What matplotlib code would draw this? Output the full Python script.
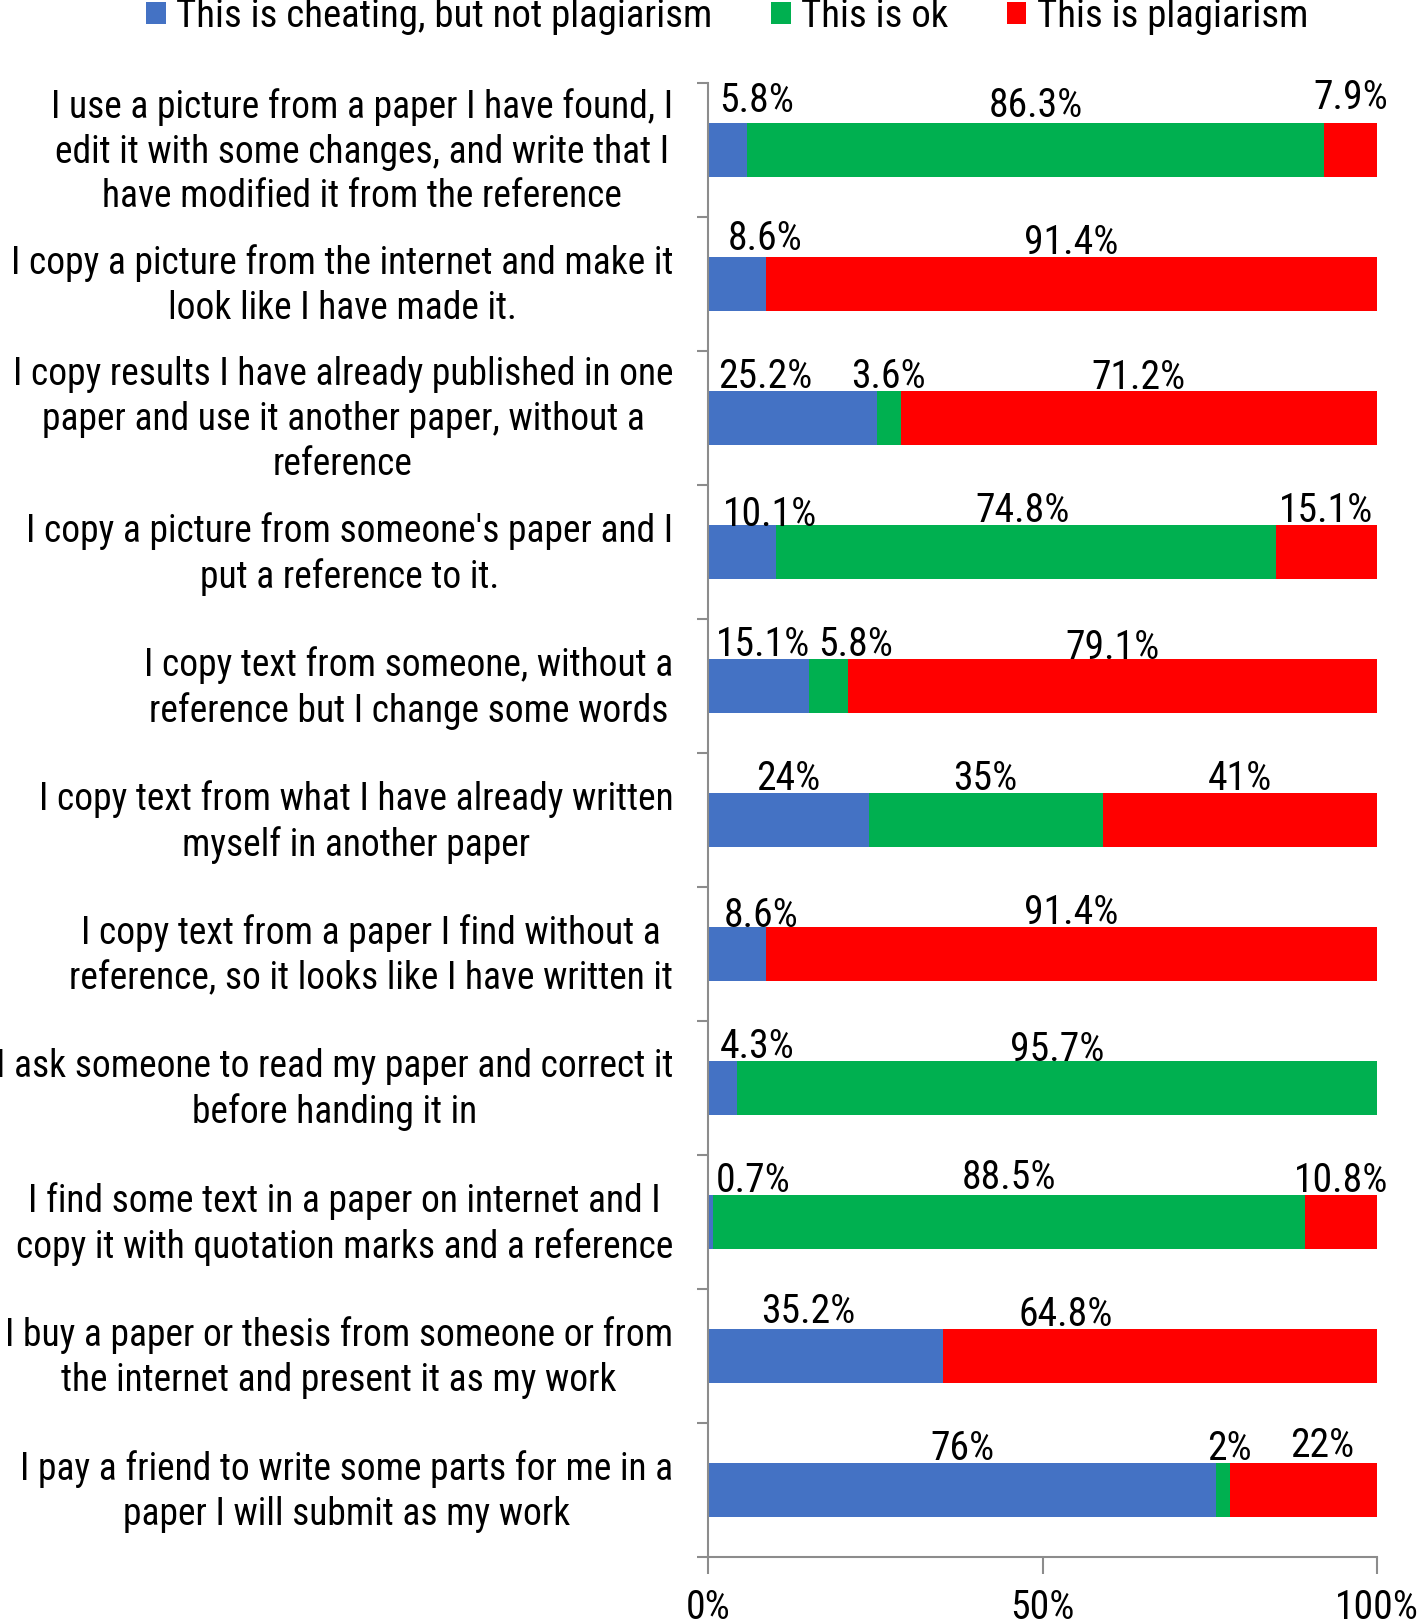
import matplotlib
matplotlib.use("Agg")
import matplotlib.pyplot as plt
from matplotlib.patches import Patch
from matplotlib.transforms import ScaledTranslation
import numpy as np

plt.rcParams['font.family'] = ['Roboto Condensed', 'Liberation Sans Narrow', 'Lato', 'DejaVu Sans']

categories = [
    "I use a picture from a paper I have found, I\nedit it with some changes, and write that I\nhave modified it from the reference",
    "I copy a picture from the internet and make it\nlook like I have made it.",
    "I copy results I have already published in one\npaper and use it another paper, without a\nreference",
    "I copy a picture from someone's paper and I\nput a reference to it.",
    "I copy text from someone, without a\nreference but I change some words",
    "I copy text from what I have already written\nmyself in another paper",
    "I copy text from a paper I find without a\nreference, so it looks like I have written it",
    "I ask someone to read my paper and correct it\nbefore handing it in",
    "I find some text in a paper on internet and I\ncopy it with quotation marks and a reference",
    "I buy a paper or thesis from someone or from\nthe internet and present it as my work",
    "I pay a friend to write some parts for me in a\npaper I will submit as my work",
]
series_names = ["This is cheating, but not plagiarism", "This is ok", "This is plagiarism"]
cheating = [5.8, 8.6, 25.2, 10.1, 15.1, 24, 8.6, 4.3, 0.7, 35.2, 76]
ok = [86.3, 0, 3.6, 74.8, 5.8, 35, 0, 95.7, 88.5, 0, 2]
plagiarism = [7.9, 91.4, 71.2, 15.1, 79.1, 41, 91.4, 0, 10.8, 64.8, 22]
x_ticks = [0, 50, 100]
x_tick_labels = ["0%", "50%", "100%"]

colors = ["#4472C4", "#00B050", "#FF0000"]

# small horizontal nudges (in % units) for data labels: (row, series) -> shift
label_shift_x = {
    (0, 0): 4.4, (1, 0): 4.2, (2, 0): -4.1, (3, 0): 4.25, (3, 1): -0.5,
    (4, 0): 0.65, (4, 1): 4.1, (6, 0): 3.6, (7, 0): 5.15, (8, 0): 6.45,
    (9, 0): -2.6, (9, 2): -14.1, (10, 1): 0.9, (10, 2): 2.8,
}
# vertical nudges (in category units, negative = up)
label_shift_y = {
    (0, 0): -0.06, (0, 1): -0.02, (0, 2): -0.08, (1, 0): -0.03, (1, 1): -0.05,
    (2, 2): 0.01, (3, 0): 0.03, (4, 2): 0.02, (6, 0): 0.02, (6, 1): -0.02,
    (7, 1): 0.02, (8, 1): -0.02, (9, 0): -0.02, (10, 2): -0.02,
}

fig = plt.figure(figsize=(14.18, 16.19), dpi=100)
ax = fig.add_axes([708 / 1418, 1 - 1557 / 1619, (1377 - 708) / 1418, (1557 - 83) / 1619])

n = len(categories)
y = np.arange(n)
bar_h = 0.41
data = [cheating, ok, plagiarism]
left = np.zeros(n)
fs_cat = 27
fs_lab = 28.5
for s, vals in enumerate(data):
    vals = np.array(vals, dtype=float)
    ax.barh(y, vals, left=left, height=bar_h, color=colors[s], edgecolor='none')
    for i in range(n):
        v = vals[i]
        if v <= 0:
            continue
        cx = left[i] + v / 2 + label_shift_x.get((i, s), 0)
        ty = y[i] - bar_h / 2 - 0.02 + label_shift_y.get((i, s), 0)
        ax.text(cx, ty, f"{v:g}%", ha='center', va='baseline', fontsize=fs_lab, color='black')
    left = left + vals

ax.set_ylim(n - 0.5, -0.5)
ax.set_xlim(0, 100)
ax.set_yticks(y)
ax.set_yticklabels(categories, fontsize=fs_cat, multialignment='center', linespacing=1.27)
ax.tick_params(axis='y', which='major', length=0, pad=25)
shift_up = ScaledTranslation(0, 4.5 / 72, fig.dpi_scale_trans)
for lbl in ax.get_yticklabels():
    lbl.set_transform(lbl.get_transform() + shift_up)
ax.set_yticks(np.arange(-0.5, n, 1), minor=True)
ax.tick_params(axis='y', which='minor', length=8, color='#8c8c8c', width=1.5, direction='out')
ax.set_xticks(x_ticks)
ax.set_xticklabels(x_tick_labels, fontsize=fs_lab)
ax.tick_params(axis='x', length=12, color='#8c8c8c', width=1.5, direction='out', pad=10)
for side in ['top', 'right']:
    ax.spines[side].set_visible(False)
for side in ['left', 'bottom']:
    ax.spines[side].set_color('#8c8c8c')
    ax.spines[side].set_linewidth(1.5)

handles = [Patch(facecolor=c, edgecolor='none') for c in colors]
fig.legend(handles, series_names, loc='center', bbox_to_anchor=(0.513, 0.99), ncol=3,
           frameon=False, fontsize=28, handlelength=0.5, handleheight=0.5,
           handletextpad=0.28, columnspacing=1.5, borderaxespad=0)

fig.savefig("out.png", dpi=100)
